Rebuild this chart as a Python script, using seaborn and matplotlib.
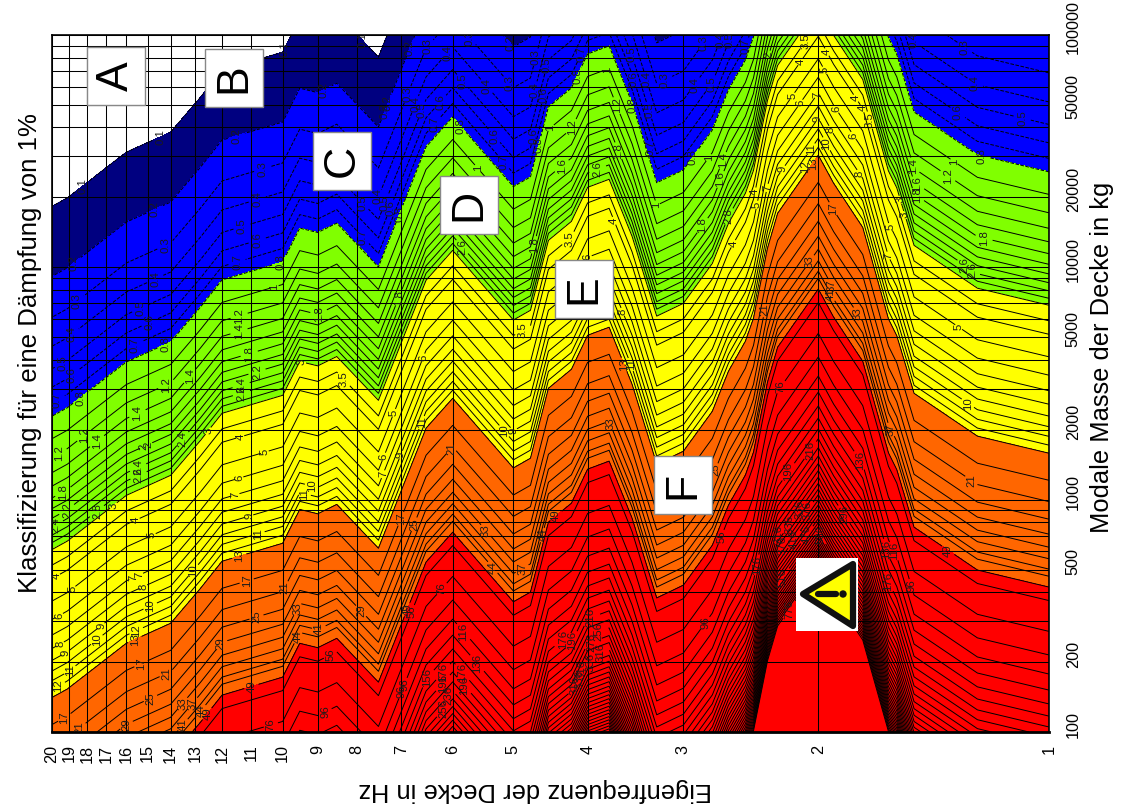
import numpy as np
import matplotlib
matplotlib.use('Agg')
import matplotlib.pyplot as plt
from matplotlib.patches import Rectangle, Polygon, Circle
from matplotlib.transforms import ScaledTranslation
import seaborn as sns

# Eigenfrequenz-Stuetzstellen in Hz
freq_nodes = [20, 19.1, 16, 14, 12.8, 12, 10, 9.5, 9, 8.5, 7.5, 6.5, 6, 5, 4.75, 4.5, 4.2, 4, 3.75,
              3.5, 3.25, 3, 2.75, 2.62, 2.49, 2.43, 2.33, 2.26, 2, 1.91, 1.75, 1.62, 1.58, 1.5, 1.24, 1]
# Klassifizierungswert bei 100 kg und bei 100000 kg modaler Masse
value_100kg = [18.3, 19.9, 31.3, 38.2, 54, 70.6, 84.4, 118, 113, 124, 80.3, 264, 355, 178, 196, 392, 473, 663, 718,
               408, 185, 210, 312, 464, 625, 785, 1570, 2220, 3950, 2990, 1930, 780, 660, 373, 244, 206]
value_100000kg = [0.0183, 0.0199, 0.0313, 0.0382, 0.054, 0.0706, 0.0844, 0.118, 0.113, 0.124, 0.0803, 0.264, 0.355,
                  0.178, 0.196, 0.392, 0.473, 0.663, 0.718, 0.408, 0.185, 0.21, 0.312, 0.464, 0.625, 0.785, 1.57,
                  2.22, 3.95, 2.99, 1.93, 0.78, 0.66, 0.373, 0.244, 0.206]
mass_nodes = [100, 100000]

band_edges = [0.1, 0.2, 0.8, 3, 13, 49]
band_colors = ['#FFFFFF', '#000080', '#0000FF', '#80FF00', '#FFFF00', '#FF6600', '#FF0000']
line_levels = [0.1, 0.2, 0.3, 0.4, 0.5, 0.6, 0.7, 0.8, 1, 1.2, 1.4, 1.6, 1.8, 2, 2.2, 2.4, 2.6, 2.8, 3, 3.5,
               4, 5, 6, 7, 8, 9, 10, 11, 12, 13, 17, 21, 25, 29, 33, 37, 41, 44, 49, 56, 76, 96, 116, 136, 156,
               176, 196, 216, 236, 256, 276, 296, 316, 336, 356, 376, 396, 416, 436, 456, 476, 496, 516, 536,
               556, 576, 596, 616, 636, 656, 676, 696, 716, 736, 756, 776]

freq_ticks = [20, 19, 18, 17, 16, 15, 14, 13, 12, 11, 10, 9, 8, 7, 6, 5, 4, 3, 2, 1]
mass_ticks = [100, 200, 500, 1000, 2000, 5000, 10000, 20000, 50000, 100000]
mass_grid = [300, 400, 600, 700, 800, 900, 3000, 4000, 6000, 7000, 8000, 9000,
             30000, 40000, 60000, 70000, 80000, 90000]

class_boxes = [('A', 87, 47), ('B', 205, 49), ('C', 313, 132), ('D', 440, 176), ('E', 555, 260), ('F', 654, 456)]

# Stellen der Hoehenlinien-Beschriftungen, Pixel im Bild
label_spots = [
    (83, 187), (162, 140), (287, 50), (357, 45), (73, 262), (155, 210), (237, 138), (330, 103), (388, 103),
    (78, 303), (163, 240), (263, 170), (73, 336), (157, 283), (258, 202), (377, 197), (62, 362), (141, 310),
    (240, 220), (360, 205), (69, 372), (150, 323), (255, 233), (390, 208), (57, 400), (136, 347), (237, 262),
    (365, 235), (82, 400), (167, 347), (280, 260), (165, 382), (277, 295), (135, 408), (57, 450), (80, 430),
    (100, 445), (192, 378), (62, 490), (143, 445), (150, 448), (67, 510), (55, 525), (96, 510), (117, 510),
    (137, 465), (137, 472), (184, 440), (211, 433), (238, 312), (238, 328), (249, 353), (258, 375), (242, 388),
    (242, 395), (139, 527), (155, 542), (242, 443), (265, 453), (239, 477), (237, 500), (248, 512), (259, 537),
    (318, 312), (302, 362), (341, 382), (305, 490), (313, 482), (60, 583), (73, 590), (59, 615), (58, 640),
    (64, 650), (97, 640), (103, 628), (70, 670), (58, 685), (62, 713), (80, 728), (135, 640), (135, 628),
    (143, 668), (137, 570), (135, 582), (144, 588), (152, 610), (148, 693), (125, 723), (167, 675), (181, 702),
    (191, 702), (182, 724), (200, 710), (205, 712), (193, 570), (240, 558), (247, 582), (283, 587), (255, 612),
    (225, 647), (300, 610), (318, 627), (298, 637), (328, 650), (362, 610), (253, 692), (270, 722), (328, 718),
    (405, 685), (412, 612), (408, 47), (388, 105), (409, 95), (417, 105), (429, 48), (422, 110), (438, 100),
    (435, 125), (449, 55), (464, 80), (488, 85), (507, 85), (473, 35), (510, 43), (535, 57), (535, 90),
    (546, 65), (543, 95), (530, 135), (539, 145), (495, 135), (503, 162), (461, 125), (479, 167), (390, 205),
    (403, 215), (462, 247), (561, 165), (572, 127), (550, 127), (575, 75), (580, 53), (607, 70), (618, 105),
    (620, 150), (598, 170), (630, 55), (632, 80), (633, 105), (645, 80), (665, 82), (650, 110), (652, 148),
    (697, 160), (695, 85), (712, 85), (655, 205), (702, 225), (611, 222), (570, 240), (587, 255), (535, 245),
    (422, 357), (392, 412), (423, 423), (402, 455), (385, 457), (385, 475), (397, 297), (450, 447), (503, 432),
    (512, 432), (520, 325), (622, 312), (610, 424), (632, 364), (623, 365), (715, 470), (416, 525), (404, 520),
    (484, 532), (492, 568), (523, 570), (557, 517), (542, 535), (411, 611), (440, 587), (463, 632), (404, 685),
    (427, 678), (475, 665), (465, 670), (462, 687), (443, 672), (443, 683), (448, 695), (445, 710), (563, 640),
    (571, 640), (591, 620), (598, 630), (593, 645), (600, 652), (590, 660), (583, 670), (574, 685), (580, 680),
    (704, 622), (707, 45), (720, 40), (730, 40), (743, 45), (770, 55), (803, 40), (827, 52), (825, 70),
    (798, 60), (795, 98), (800, 103), (818, 95), (817, 118), (838, 108), (830, 130), (853, 100), (863, 108),
    (857, 133), (828, 143), (812, 150), (803, 165), (815, 165), (860, 173), (781, 168), (768, 188), (757, 192),
    (758, 205), (732, 243), (730, 217), (834, 208), (890, 227), (887, 256), (808, 260), (833, 285), (830, 295),
    (722, 180), (722, 160), (712, 160), (917, 165), (918, 182), (917, 195), (947, 177), (955, 160), (980, 160),
    (956, 115), (1021, 123), (975, 83), (963, 50), (983, 242), (965, 265), (970, 270), (915, 40), (900, 200),
    (905, 215), (870, 120), (722, 537), (915, 585), (892, 552), (887, 582), (947, 552), (757, 565), (780, 535),
    (790, 525), (820, 535), (782, 545), (783, 577), (843, 515), (800, 510), (806, 510), (795, 540), (807, 535),
    (790, 610), (790, 473), (810, 450), (860, 460), (785, 390), (860, 312), (765, 310), (975, 475), (968, 403),
    (958, 328), (890, 430), (890, 548),
]

sns.set_theme(style='white')
plt.rcParams['font.family'] = ['Liberation Sans', 'DejaVu Sans']

W, H = 1125, 810
fig = plt.figure(figsize=(W / 100, H / 100), dpi=100)
ax = fig.add_axes([52 / W, (H - 732) / H, 997 / W, 697 / H])

x = np.log10(freq_nodes)
y = np.log10(mass_nodes)
z = np.log10(np.array([value_100kg, value_100000kg]))

palette = sns.color_palette(band_colors)
ax.contourf(x, y, z, levels=np.log10(band_edges), colors=palette, extend='both')
cs = ax.contour(x, y, z, levels=np.log10(line_levels), colors='black', linewidths=0.7)

ax.set_xlim(np.log10(20), 0)
ax.set_ylim(2, 5)
ax.set_xticks(np.log10(freq_ticks))
ax.set_xticklabels(freq_ticks, rotation=90, fontsize=11.7, color='black')
ax.yaxis.tick_right()
ax.set_yticks(np.log10(mass_ticks))
ax.set_yticklabels(mass_ticks, rotation=90, va='center', fontsize=11.7, color='black')
ax.set_yticks(np.log10(mass_grid), minor=True)
ax.tick_params(axis='x', length=0, pad=9)
ax.tick_params(axis='y', which='both', length=0, pad=12)
shift = ScaledTranslation(0, 8 / 100, fig.dpi_scale_trans)  # 8 px nach oben
for t in ax.get_yticklabels():
    t.set_transform(t.get_transform() + shift)
ax.set_axisbelow(False)
ax.grid(True, which='both', color='black', linewidth=0.75)
for s in ax.spines.values():
    s.set_visible(True)
    s.set_color('black')
    s.set_linewidth(1.2)
ax.spines['bottom'].set_linewidth(2)

# Pixel in Achsenwerte umrechnen, Beschriftung sitzt dann auf der naechsten Linie
spots = [(np.log10(20) * (1 - (px - 52) / 997), 2 + (732 - py) / (697 / 3)) for px, py in label_spots]
labels = ax.clabel(cs, fmt=lambda v: f'{round(10 ** v, 1):g}', fontsize=8.2, colors='#1a1a1a',
                   inline=True, inline_spacing=1, manual=spots)
for t in labels:
    t.set_rotation(90)

fig.text(30 / W, 1 - 353 / H, 'Klassifizierung für eine Dämpfung von 1%', rotation=90,
         ha='center', va='center', fontsize=18.6, color='black')
fig.text(1102 / W, 1 - 357 / H, 'Modale Masse der Decke in kg', rotation=90,
         ha='center', va='center', fontsize=18.4, color='black')
fig.text(535 / W, 1 - 790 / H, 'Eigenfrequenz der Decke in Hz', rotation=180,
         ha='center', va='center', fontsize=18.4, color='black')

# Kaesten und Warnzeichen in Pixelkoordinaten
over = fig.add_axes([0, 0, 1, 1], facecolor='none')
over.set_xlim(0, W)
over.set_ylim(H, 0)
over.axis('off')
for name, bx, by in class_boxes:
    over.add_patch(Rectangle((bx, by), 58, 58, facecolor='white', edgecolor='#888888', linewidth=1))
    over.text(bx + 29, by + 29, name, rotation=90, ha='center', va='center', fontsize=32, color='black')

over.add_patch(Rectangle((796, 558), 62, 73, facecolor='white', edgecolor='none'))
over.add_patch(Polygon([(803, 594), (853, 564), (853, 626)], closed=True, facecolor='#FFFF00',
                       edgecolor='#111111', linewidth=4.5, joinstyle='round'))
over.plot([818, 836], [594, 594], color='#111111', linewidth=4.5, solid_capstyle='round')
over.add_patch(Circle((843, 594), 3, color='#111111'))

plt.savefig('out.png', dpi=100, facecolor='white')
plt.close()
